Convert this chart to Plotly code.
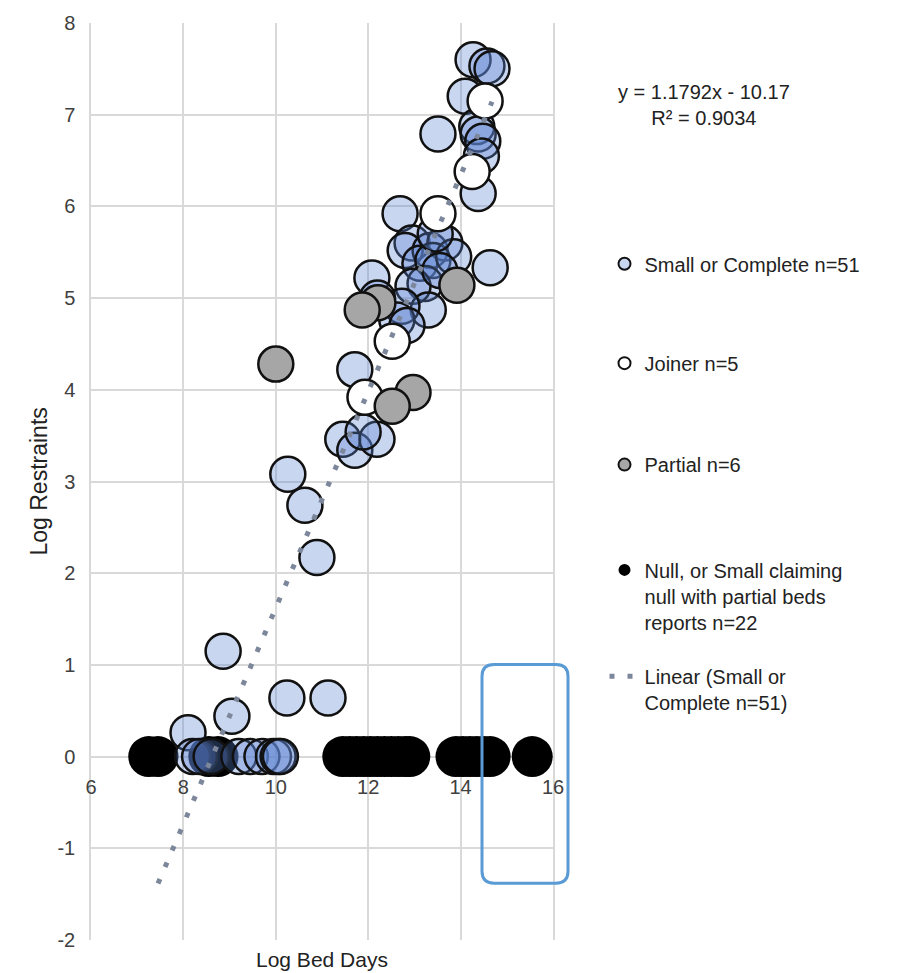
import numpy as np
import plotly.graph_objects as go

# ---------------- data ----------------
small_x = [14.27, 14.57, 14.68, 14.10, 13.51, 14.35, 14.38, 14.48, 14.38, 14.45,
           12.69, 12.95, 12.80, 13.34, 13.66, 13.12, 13.40, 13.85, 14.64, 13.23,
           12.97, 13.30, 12.08, 12.73, 12.62, 12.84, 13.45, 13.55, 12.20,
           11.71, 11.45, 11.71, 12.19, 11.89, 10.26, 10.63, 10.89,
           8.86, 9.05, 10.24, 8.10, 11.13,
           8.20, 8.35, 8.60, 9.20, 9.45, 9.70, 9.95, 10.05, 10.10]
small_y = [7.60, 7.53, 7.50, 7.20, 6.79, 6.87, 6.79, 6.71, 6.14, 6.55,
           5.92, 5.60, 5.52, 5.52, 5.60, 5.38, 5.41, 5.45, 5.33, 5.16,
           5.13, 4.87, 5.22, 4.91, 4.76, 4.70, 5.70, 5.30, 5.00,
           4.22, 3.46, 3.34, 3.46, 3.54, 3.08, 2.74, 2.17,
           1.15, 0.44, 0.64, 0.26, 0.64,
           0, 0, 0, 0, 0, 0, 0, 0, 0]

joiner_x = [14.53, 14.25, 13.51, 12.52, 11.93]
joiner_y = [7.15, 6.38, 5.92, 4.53, 3.92]

partial_x = [10.00, 12.97, 12.52, 13.92, 12.21, 11.87]
partial_y = [4.28, 3.97, 3.82, 5.14, 4.95, 4.87]

null_x = [7.25, 7.45, 8.55, 8.75,
          11.45, 11.60, 11.75, 11.90, 12.05, 12.20, 12.35, 12.50, 12.65, 12.80, 12.90,
          13.90, 14.05, 14.20, 14.35, 14.50, 14.64, 15.55]
null_y = [0] * len(null_x)

trend_slope = 1.1792
trend_intercept = -10.17
trend_r2 = 0.9034
trend_x_range = [7.45, 14.68]

x_ticks = [6, 8, 10, 12, 14, 16]
x_tick_text = ["6", "8", "10", "12", "14", "16"]
y_ticks = [-2, -1, 0, 1, 2, 3, 4, 5, 6, 7, 8]
y_tick_text = ["-2", "-1", "0", "1", "2", "3", "4", "5", "6", "7", "8"]

names = ["Small or Complete n=51", "Joiner n=5", "Partial n=6",
         "Null, or Small claiming<br>null with partial beds<br>reports n=22",
         "Linear (Small or<br>Complete n=51)"]

FONT = "Liberation Sans, Arial, sans-serif"
OUTLINE = "#111111"

fig = go.Figure()

fig.add_trace(go.Scatter(
    x=null_x, y=null_y, mode="markers", name=names[3], legend="legend4",
    marker=dict(size=41, color="#000000", line=dict(width=0))))
fig.add_trace(go.Scatter(
    x=small_x, y=small_y, mode="markers", name=names[0], legend="legend",
    marker=dict(size=35, color="rgba(90,130,210,0.33)", line=dict(width=2.5, color=OUTLINE))))
fig.add_trace(go.Scatter(
    x=joiner_x, y=joiner_y, mode="markers", name=names[1], legend="legend2",
    marker=dict(size=35, color="#ffffff", line=dict(width=2.5, color=OUTLINE))))
fig.add_trace(go.Scatter(
    x=partial_x, y=partial_y, mode="markers", name=names[2], legend="legend3",
    marker=dict(size=35, color="#a6a6a6", line=dict(width=2.5, color=OUTLINE))))

tx = np.array(trend_x_range)
ty = trend_slope * tx + trend_intercept
fig.add_trace(go.Scatter(
    x=tx, y=ty, mode="lines", name=names[4], legend="legend5",
    line=dict(color="#7d879b", width=5, dash="5px,13px")))

def leg(ypix):
    return dict(x=1.105 + 3 / 462, xanchor="left", y=(940 - ypix) / 922, yanchor="middle",
                valign="top", bgcolor="rgba(0,0,0,0)", itemsizing="constant",
                font=dict(family=FONT, size=20, color="#222222"))

fig.update_layout(
    width=897, height=973,
    margin=dict(l=91, r=344, t=18, b=33),
    paper_bgcolor="white", plot_bgcolor="white",
    font=dict(family=FONT, color="#222222"),
    showlegend=True,
    legend=leg(260), legend2=leg(360), legend3=leg(462),
    legend4=leg(594), legend5=leg(688),
    xaxis=dict(range=[6, 16], tickvals=x_ticks, ticktext=x_tick_text, showgrid=True,
               gridcolor="#d9d9d9", gridwidth=1.5, zeroline=False, showline=False,
               anchor="free", position=0.2, ticks="", ticklabelstandoff=16,
               tickfont=dict(family=FONT, size=20, color="#404040")),
    yaxis=dict(range=[-2, 8], tickvals=y_ticks, ticktext=y_tick_text, showgrid=True,
               gridcolor="#d9d9d9", gridwidth=1.5, zeroline=False, showline=True,
               mirror=True, linecolor="#d9d9d9", linewidth=1.5, ticks="",
               ticklabelstandoff=10,
               tickfont=dict(family=FONT, size=20, color="#404040")),
    annotations=[
        dict(text="Log Bed Days", xref="paper", yref="paper", x=0.5, y=0,
             xanchor="center", yanchor="top", yshift=-6, showarrow=False,
             font=dict(family=FONT, size=21, color="#222222")),
        dict(text="Log Restraints", xref="paper", yref="paper", x=(38 - 91) / 462, y=0.5,
             xanchor="center", yanchor="middle", textangle=-90, showarrow=False,
             font=dict(family=FONT, size=23, color="#222222")),
        dict(text=f"y = {trend_slope}x - {abs(trend_intercept)}<br>R² = {trend_r2}",
             xref="paper", yref="paper", x=(704 - 91) / 462, y=(940 - 100) / 922,
             xanchor="center", yanchor="middle", align="center", showarrow=False,
             font=dict(family=FONT, size=20, color="#222222")),
    ],
)

# highlight box (rounded rectangle)
x0, x1 = (482 - 91) / 462, (568 - 91) / 462
y0, y1 = (940 - 883) / 922, (940 - 663) / 922
rx, ry = 12 / 462, 12 / 922
path = (f"M {x0+rx},{y1} L {x1-rx},{y1} Q {x1},{y1} {x1},{y1-ry} "
        f"L {x1},{y0+ry} Q {x1},{y0} {x1-rx},{y0} L {x0+rx},{y0} "
        f"Q {x0},{y0} {x0},{y0+ry} L {x0},{y1-ry} Q {x0},{y1} {x0+rx},{y1} Z")
fig.add_shape(type="path", path=path, xref="paper", yref="paper",
              line=dict(color="#5b9bd5", width=3), fillcolor="rgba(0,0,0,0)")

fig.write_html("out.html", config={"displayModeBar": False},
               post_script="document.body.style.margin='0';document.body.style.overflow='hidden';")
